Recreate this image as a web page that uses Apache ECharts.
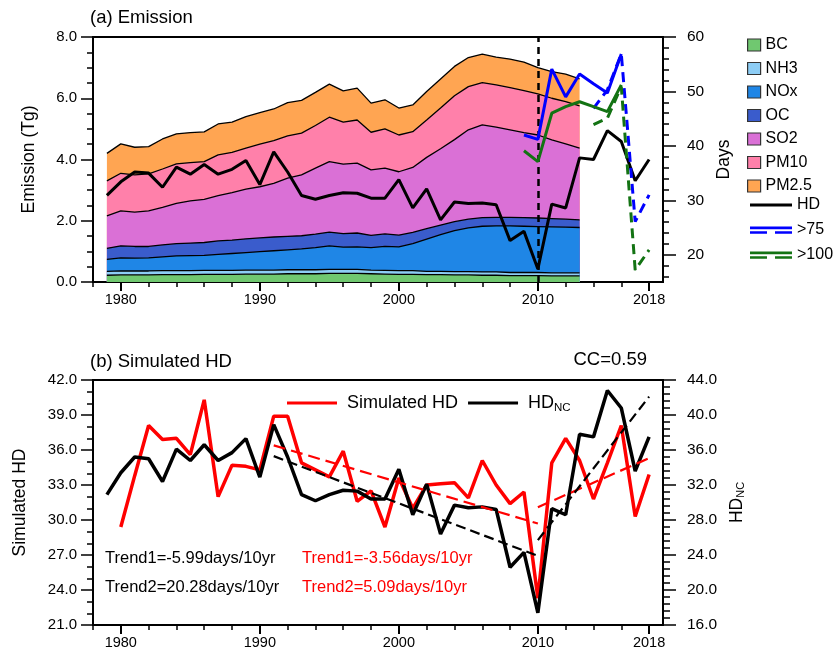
<!DOCTYPE html>
<html>
<head>
<meta charset="utf-8">
<script src="https://cdn.jsdelivr.net/npm/echarts@6/dist/echarts.min.js"></script>
<style>
html, body { margin: 0; padding: 0; background: #fff; }
#chart { width: 833px; height: 666px; }
</style>
</head>
<body>
<div id="chart"></div>
<script>
// ---- data ----
var emisYears = [1979, 1980, 1981, 1982, 1983, 1984, 1985, 1986, 1987, 1988, 1989, 1990,
  1991, 1992, 1993, 1994, 1995, 1996, 1997, 1998, 1999, 2000, 2001, 2002, 2003, 2004,
  2005, 2006, 2007, 2008, 2009, 2010, 2011, 2012, 2013];
// emissions (Tg), bottom of the stack first
var bc = [0.22, 0.23, 0.23, 0.23, 0.24, 0.24, 0.24, 0.25, 0.25, 0.25, 0.26, 0.26, 0.26, 0.27, 0.27,
  0.27, 0.28, 0.28, 0.28, 0.27, 0.26, 0.25, 0.25, 0.24, 0.24, 0.23, 0.23, 0.22, 0.22, 0.21,
  0.21, 0.21, 0.20, 0.20, 0.20];
var nh3 = [0.13, 0.13, 0.13, 0.13, 0.13, 0.13, 0.13, 0.13, 0.13, 0.13, 0.13, 0.13, 0.13, 0.13, 0.13,
  0.13, 0.13, 0.13, 0.13, 0.12, 0.12, 0.12, 0.12, 0.11, 0.11, 0.11, 0.11, 0.11, 0.11, 0.10,
  0.10, 0.10, 0.10, 0.10, 0.10];
var nox = [0.39, 0.43, 0.42, 0.43, 0.45, 0.48, 0.49, 0.49, 0.52, 0.55, 0.57, 0.60, 0.63, 0.65, 0.68,
  0.72, 0.77, 0.73, 0.74, 0.73, 0.78, 0.78, 0.88, 1.05, 1.20, 1.34, 1.43, 1.49, 1.50, 1.52,
  1.51, 1.50, 1.50, 1.49, 1.48];
var oc = [0.36, 0.39, 0.38, 0.37, 0.39, 0.40, 0.41, 0.42, 0.44, 0.44, 0.45, 0.45, 0.45, 0.44, 0.43,
  0.44, 0.45, 0.44, 0.45, 0.40, 0.41, 0.38, 0.37, 0.34, 0.31, 0.29, 0.28, 0.28, 0.28, 0.28,
  0.28, 0.28, 0.27, 0.26, 0.25];
var so2 = [1.06, 1.14, 1.12, 1.16, 1.23, 1.32, 1.38, 1.41, 1.48, 1.55, 1.62, 1.67, 1.75, 1.90, 1.99,
  2.16, 2.30, 2.27, 2.28, 2.14, 2.15, 2.07, 2.12, 2.33, 2.49, 2.68, 2.92, 3.03, 2.95, 2.86,
  2.78, 2.71, 2.57, 2.46, 2.34];
var pm10 = [1.14, 1.23, 1.22, 1.21, 1.25, 1.29, 1.25, 1.23, 1.33, 1.31, 1.34, 1.39, 1.40, 1.38, 1.36,
  1.39, 1.45, 1.37, 1.41, 1.23, 1.28, 1.20, 1.17, 1.22, 1.33, 1.43, 1.41, 1.38, 1.38, 1.38,
  1.37, 1.34, 1.36, 1.38, 1.38];
var pm25 = [0.90, 0.96, 0.90, 0.89, 0.98, 0.98, 0.98, 0.97, 1.01, 0.99, 1.03, 1.03, 1.03, 1.09, 1.07,
  1.08, 1.08, 1.02, 1.04, 0.95, 0.95, 0.88, 0.87, 0.93, 0.95, 0.96, 0.95, 0.93, 0.90, 0.93,
  0.93, 0.86, 0.87, 0.90, 0.88];

var hdYears = [1979, 1980, 1981, 1982, 1983, 1984, 1985, 1986, 1987, 1988, 1989, 1990, 1991,
  1992, 1993, 1994, 1995, 1996, 1997, 1998, 1999, 2000, 2001, 2002, 2003, 2004, 2005, 2006,
  2007, 2008, 2009, 2010, 2011, 2012, 2013, 2014, 2015, 2016, 2017, 2018];
// haze days (observed, North China)
var hd = [30.9, 33.4, 35.2, 35.0, 32.4, 36.1, 34.8, 36.6, 34.8, 35.7, 37.3, 32.9, 38.9,
  35.2, 30.9, 30.2, 30.9, 31.4, 31.3, 30.4, 30.4, 33.8, 28.6, 32.1, 26.4, 29.7, 29.4, 29.5,
  29.2, 22.6, 24.3, 17.4, 29.3, 28.6, 37.8, 37.5, 42.8, 40.8, 33.6, 37.5];

var simYears = [1980, 1981, 1982, 1983, 1984, 1985, 1986, 1987, 1988, 1989, 1990, 1991, 1992,
  1993, 1994, 1995, 1996, 1997, 1998, 1999, 2000, 2001, 2002, 2003, 2004, 2005, 2006, 2007,
  2008, 2009, 2010, 2011, 2012, 2013, 2014, 2015, 2016, 2017, 2018];
var simHd = [29.4, 33.8, 38.1, 36.9, 37.0, 35.6, 40.3, 32.0, 34.7, 34.6, 34.3, 38.9, 38.9,
  34.9, 34.3, 33.7, 35.9, 31.6, 32.5, 29.4, 33.6, 31.0, 33.0, 33.1, 33.2, 31.9, 35.1, 33.0,
  31.4, 32.4, 23.3, 34.9, 37.0, 35.1, 31.8, 34.9, 38.1, 30.3, 33.9];

// PM2.5 > 75 and > 100 days
var obsYears = [2009, 2010, 2011, 2012, 2013, 2014, 2015, 2016];
var gt75 = [42.0, 41.2, 54.1, 49.0, 53.2, 51.4, 49.7, 56.9];
var gt100 = [39.1, 37.1, 46.0, 47.2, 48.1, 47.2, 46.3, 51.2];
var projYears = [2014, 2015, 2016, 2017, 2018];
var gt75Proj = [46.9, 50.3, 56.9, 26.1, 31.0];
var gt100Proj = [43.9, 45.1, 50.9, 17.2, 20.9];

// trend lines (end points)
var trend1Years = [1991, 2010];
var trend2Years = [2010, 2018];
var hdTrend1 = [35.3, 23.9];
var hdTrend2 = [25.7, 42.1];
var simTrend1 = [36.4, 29.7];
var simTrend2 = [31.1, 35.3];

var labelYears = [1980, 1990, 2000, 2010, 2018];
var splitYear = 2010;

// ---- chart ----
var font = '"Liberation Sans", Arial, Helvetica, sans-serif';
var tickStyle = { color: '#000', width: 1.5 };
var minorYears = [];
for (var y = 1978; y <= 2018; y += 2) minorYears.push(y);
var daysMinor = [];
for (var d = 16; d <= 60; d += 2) daysMinor.push(d);

function pairs(xs, ys) {
  return xs.map(function (x, i) { return [x, ys[i]]; });
}

var species = ['BC', 'NH3', 'NOx', 'OC', 'SO2', 'PM10', 'PM2.5'];
var speciesVals = [bc, nh3, nox, oc, so2, pm10, pm25];
var areaColors = {
  BC: '#70c870', NH3: '#8dcdf5', NOx: '#1f86e6', OC: '#3a5ccc',
  SO2: '#da70d6', PM10: '#ff80aa', 'PM2.5': '#ffa552'
};

// running totals, so each band is drawn from 0 up to its cumulative top
var cumTops = [];
var running = emisYears.map(function () { return 0; });
speciesVals.forEach(function (vals) {
  running = running.map(function (r, i) { return +(r + vals[i]).toFixed(3); });
  cumTops.push(running);
});

// highest band first so the lower bands paint over it
var areaSeries = [];
for (var k = species.length - 1; k >= 0; k--) {
  areaSeries.push({
    name: species[k], type: 'line', xAxisIndex: 0, yAxisIndex: 0,
    data: pairs(emisYears, cumTops[k]), symbol: 'none',
    lineStyle: { color: '#000', width: 1.3 },
    areaStyle: { color: areaColors[species[k]], opacity: 1, origin: 'start' },
    itemStyle: { color: areaColors[species[k]] }, z: 2
  });
}

function xMain(g) {
  return {
    type: 'value', gridIndex: g, min: 1978, max: 2019, position: 'bottom',
    axisLine: { show: true, onZero: false, lineStyle: { color: '#000', width: 2 } },
    axisTick: { show: true, customValues: minorYears, length: 5, lineStyle: tickStyle },
    axisLabel: {
      customValues: labelYears, margin: 10, fontSize: 14.5, color: '#000', fontFamily: font,
      formatter: function (v) { return String(v); }
    },
    splitLine: { show: false }
  };
}
function xMajor(g) {
  return {
    type: 'value', gridIndex: g, min: 1978, max: 2019, position: 'bottom',
    axisLine: { show: false },
    axisTick: { show: true, customValues: labelYears, length: 9, lineStyle: { color: '#000', width: 2 } },
    axisLabel: { show: false }, splitLine: { show: false }
  };
}

var lineIcon = 'path://M0,0L0,0M0,3.6H42V6.4H0ZM42,10L42,10';
var doubleIcon = 'path://M0,0L0,0M0,1.6H42V4.2H0ZM0,6.2H17V8.8H0ZM25,6.2H42V8.8H25ZM42,10L42,10';
var lineIconWide = 'path://M0,0L0,0M0,3.6H50V6.4H0ZM50,10L50,10';

var chart = echarts.init(document.getElementById('chart'), null, { renderer: 'canvas' });

var option = {
  animation: false,
  backgroundColor: '#fff',
  textStyle: { fontFamily: font },
  grid: [
    { left: 93, top: 37, width: 570, height: 245, show: true, borderColor: '#000', borderWidth: 2 },
    { left: 93, top: 37, width: 570, height: 245, show: false },
    { left: 93, top: 380, width: 570, height: 245, show: true, borderColor: '#000', borderWidth: 2 },
    { left: 93, top: 380, width: 570, height: 245, show: false }
  ],
  xAxis: [xMain(0), xMajor(1), xMain(2), xMajor(3)],
  yAxis: [
    {
      type: 'value', gridIndex: 0, position: 'left', min: 0, max: 8, interval: 2,
      name: 'Emission (Tg)', nameLocation: 'middle', nameGap: 55,
      nameTextStyle: { fontSize: 17.5, color: '#000', fontFamily: font },
      axisLine: { show: true, lineStyle: { color: '#000', width: 2 } },
      axisTick: { show: true, length: 12, lineStyle: tickStyle },
      minorTick: { show: true, splitNumber: 4, length: 6, lineStyle: tickStyle },
      axisLabel: { formatter: function (v) { return v.toFixed(1); }, margin: 16, fontSize: 15, color: '#000', fontFamily: font },
      splitLine: { show: false }
    },
    {
      type: 'value', gridIndex: 0, position: 'right', min: 15, max: 60,
      name: 'Days', nameLocation: 'middle', nameGap: 50,
      nameTextStyle: { fontSize: 17.5, color: '#000', fontFamily: font },
      axisLine: { show: true, lineStyle: { color: '#000', width: 2 } },
      axisTick: { show: true, customValues: [20, 30, 40, 50, 60], length: 13, lineStyle: tickStyle },
      axisLabel: { customValues: [20, 30, 40, 50, 60], margin: 24, fontSize: 15.5, color: '#000', fontFamily: font },
      splitLine: { show: false }
    },
    {
      type: 'value', gridIndex: 1, position: 'right', min: 15, max: 60,
      axisLine: { show: false },
      axisTick: { show: true, customValues: daysMinor, length: 6, lineStyle: tickStyle },
      axisLabel: { show: false }, splitLine: { show: false }
    },
    {
      type: 'value', gridIndex: 2, position: 'left', min: 21, max: 42, interval: 3,
      name: 'Simulated HD', nameLocation: 'middle', nameGap: 64,
      nameTextStyle: { fontSize: 17.5, color: '#000', fontFamily: font },
      axisLine: { show: true, lineStyle: { color: '#000', width: 2 } },
      axisTick: { show: true, length: 12, lineStyle: tickStyle },
      minorTick: { show: true, splitNumber: 3, length: 6, lineStyle: tickStyle },
      axisLabel: { formatter: function (v) { return v.toFixed(1); }, margin: 16, fontSize: 15, color: '#000', fontFamily: font },
      splitLine: { show: false }
    },
    {
      type: 'value', gridIndex: 2, position: 'right', min: 16, max: 44, interval: 4,
      name: '{a|HD}{s|NC}', nameLocation: 'middle', nameGap: 64,
      nameTextStyle: {
        color: '#000', fontFamily: font,
        rich: { a: { fontSize: 17.5, fontFamily: font }, s: { fontSize: 11, fontFamily: font, padding: [8, 0, 0, 0] } }
      },
      axisLine: { show: true, lineStyle: { color: '#000', width: 2 } },
      axisTick: { show: true, length: 13, lineStyle: tickStyle },
      minorTick: { show: true, splitNumber: 5, length: 7, lineStyle: tickStyle },
      axisLabel: { formatter: function (v) { return v.toFixed(1); }, margin: 24, fontSize: 15.5, color: '#000', fontFamily: font },
      splitLine: { show: false }
    },
    { type: 'value', gridIndex: 3, min: 0, max: 1, show: false }
  ],
  legend: [
    {
      orient: 'vertical', left: 747, top: 37, itemWidth: 13, itemHeight: 12, itemGap: 7.5,
      padding: 0, selectedMode: false,
      textStyle: { fontSize: 16, color: '#000', fontFamily: font },
      data: species.map(function (n) {
        return { name: n, icon: 'rect', itemStyle: { color: areaColors[n], borderColor: '#333', borderWidth: 1.2 } };
      })
    },
    {
      orient: 'vertical', left: 750, top: 197, itemWidth: 42, itemHeight: 10, itemGap: 9,
      padding: 0, selectedMode: false,
      textStyle: { fontSize: 16, color: '#000', fontFamily: font },
      data: [
        { name: 'HD', icon: lineIcon, itemStyle: { color: '#000', borderWidth: 0 } },
        { name: '>75', icon: doubleIcon, itemStyle: { color: '#0000ff', borderWidth: 0 } },
        { name: '>100', icon: doubleIcon, itemStyle: { color: '#137313', borderWidth: 0 } }
      ]
    },
    {
      orient: 'horizontal', left: 287, top: 394, itemWidth: 50, itemHeight: 10, itemGap: 10,
      padding: 0, selectedMode: false,
      formatter: function (name) { return name === 'HD_NC' ? '{a|HD}{s|NC}' : name; },
      textStyle: {
        fontSize: 18, color: '#000', fontFamily: font, padding: [0, 0, 0, 5],
        rich: { a: { fontSize: 18, fontFamily: font }, s: { fontSize: 11.5, fontFamily: font, padding: [9, 0, 0, 0] } }
      },
      data: [
        { name: 'Simulated HD', icon: lineIconWide, itemStyle: { color: '#ff0000', borderWidth: 0 } },
        { name: 'HD_NC', icon: lineIconWide, itemStyle: { color: '#000', borderWidth: 0 } }
      ]
    }
  ],
  graphic: [
    { type: 'text', left: 90, top: 8, style: { text: '(a) Emission', font: '18.5px ' + font, fill: '#000' } },
    { type: 'text', left: 90, top: 352, style: { text: '(b) Simulated HD', font: '18.5px ' + font, fill: '#000' } },
    { type: 'text', right: 186, top: 350, style: { text: 'CC=0.59', font: '18.5px ' + font, fill: '#000' } },
    { type: 'text', left: 105, top: 550, style: { text: 'Trend1=-5.99days/10yr', font: '16.5px ' + font, fill: '#000' } },
    { type: 'text', left: 105, top: 579, style: { text: 'Trend2=20.28days/10yr', font: '16.5px ' + font, fill: '#000' } },
    { type: 'text', left: 302, top: 550, style: { text: 'Trend1=-3.56days/10yr', font: '16.5px ' + font, fill: '#ff0000' } },
    { type: 'text', left: 302, top: 579, style: { text: 'Trend2=5.09days/10yr', font: '16.5px ' + font, fill: '#ff0000' } }
  ],
  series: areaSeries.concat([
    {
      name: 'HD', type: 'line', xAxisIndex: 0, yAxisIndex: 1, data: pairs(hdYears, hd),
      symbol: 'none', lineStyle: { color: '#000', width: 3 }, itemStyle: { color: '#000' }, z: 5,
      markLine: {
        silent: true, symbol: ['none', 'none'], label: { show: false },
        lineStyle: { color: '#000', width: 2.5, type: [7, 5] },
        data: [{ xAxis: splitYear }]
      }
    },
    {
      name: '>75', type: 'line', xAxisIndex: 0, yAxisIndex: 1, data: pairs(obsYears, gt75),
      symbol: 'none', lineStyle: { color: '#0000ff', width: 3 }, itemStyle: { color: '#0000ff' }, z: 6
    },
    {
      name: '>75', type: 'line', xAxisIndex: 0, yAxisIndex: 1, data: pairs(projYears, gt75Proj),
      symbol: 'none', lineStyle: { color: '#0000ff', width: 3, type: [10, 6] }, itemStyle: { color: '#0000ff' }, z: 6
    },
    {
      name: '>100', type: 'line', xAxisIndex: 0, yAxisIndex: 1, data: pairs(obsYears, gt100),
      symbol: 'none', lineStyle: { color: '#137313', width: 3 }, itemStyle: { color: '#137313' }, z: 6
    },
    {
      name: '>100', type: 'line', xAxisIndex: 0, yAxisIndex: 1, data: pairs(projYears, gt100Proj),
      symbol: 'none', lineStyle: { color: '#137313', width: 3, type: [10, 6] }, itemStyle: { color: '#137313' }, z: 6
    },
    {
      name: 'Simulated HD', type: 'line', xAxisIndex: 2, yAxisIndex: 3, data: pairs(simYears, simHd),
      symbol: 'none', lineStyle: { color: '#ff0000', width: 3.5 }, itemStyle: { color: '#ff0000' }, z: 3
    },
    {
      name: 'HD_NC', type: 'line', xAxisIndex: 2, yAxisIndex: 4, data: pairs(hdYears, hd),
      symbol: 'none', lineStyle: { color: '#000', width: 3.5 }, itemStyle: { color: '#000' }, z: 4
    },
    {
      name: 'simTrend1', type: 'line', xAxisIndex: 2, yAxisIndex: 3, data: pairs(trend1Years, simTrend1),
      symbol: 'none', lineStyle: { color: '#ff0000', width: 2.2, type: [12, 6] }, z: 5
    },
    {
      name: 'simTrend2', type: 'line', xAxisIndex: 2, yAxisIndex: 3, data: pairs(trend2Years, simTrend2),
      symbol: 'none', lineStyle: { color: '#ff0000', width: 2.2, type: [12, 6] }, z: 5
    },
    {
      name: 'hdTrend1', type: 'line', xAxisIndex: 2, yAxisIndex: 4, data: pairs(trend1Years, hdTrend1),
      symbol: 'none', lineStyle: { color: '#000', width: 2.2, type: [10, 5] }, z: 5
    },
    {
      name: 'hdTrend2', type: 'line', xAxisIndex: 2, yAxisIndex: 4, data: pairs(trend2Years, hdTrend2),
      symbol: 'none', lineStyle: { color: '#000', width: 2.2, type: [10, 5] }, z: 5
    }
  ])
};

chart.setOption(option);
</script>
</body>
</html>
